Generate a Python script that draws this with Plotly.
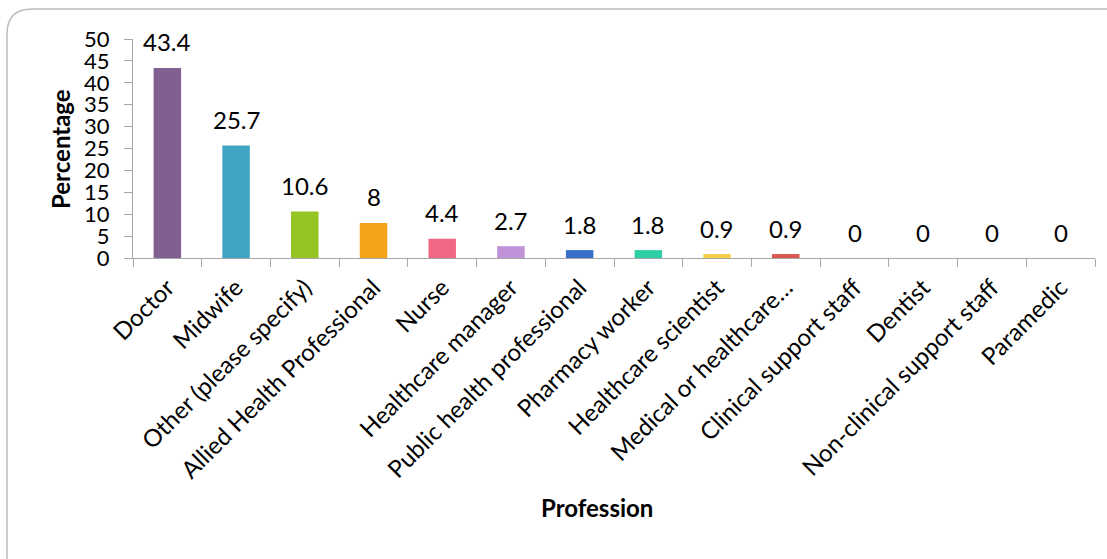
import plotly.graph_objects as go

categories = ["Doctor", "Midwife", "Other (please specify)", "Allied Health Professional",
              "Nurse", "Healthcare manager", "Public health professional", "Pharmacy worker",
              "Healthcare scientist", "Medical or healthcare…", "Clinical support staff",
              "Dentist", "Non-clinical support staff", "Paramedic"]
values = [43.4, 25.7, 10.6, 8, 4.4, 2.7, 1.8, 1.8, 0.9, 0.9, 0, 0, 0, 0]
labels = ["43.4", "25.7", "10.6", "8", "4.4", "2.7", "1.8", "1.8", "0.9", "0.9", "0", "0", "0", "0"]
colors = ["#7F6090", "#40A4C3", "#95C423", "#F5A31A", "#F06685", "#C093D8", "#3A6ECB",
          "#2ECFA4", "#F7CE47", "#D9574E", "#888888", "#888888", "#888888", "#888888"]
y_ticks = [0, 5, 10, 15, 20, 25, 30, 35, 40, 45, 50]

W, H = 1107, 559
L, R, T, B = 133, 12, 39, 301
PW, PH = W - L - R, H - T - B

def px(x):
    return (x - L) / PW

def py(y):
    return (H - B - y) / PH

FONT = "Lato"

fig = go.Figure()
fig.add_trace(go.Bar(x=categories, y=values, marker_color=colors, width=0.4,
                     marker_line_width=0, showlegend=False, hoverinfo="x+y"))

annotations = []
for c, v, t in zip(categories, values, labels):
    annotations.append(dict(x=c, y=v, xref="x", yref="y", text=t, showarrow=False,
                            yanchor="middle", yshift=26,
                            font=dict(family=FONT, size=24, color="#000000")))
annotations.append(dict(x=px(60), y=py(149), xref="paper", yref="paper", text="<b>Percentage</b>",
                        textangle=-90, showarrow=False, xanchor="center", yanchor="middle",
                        font=dict(family=FONT, size=24, color="#000000")))
annotations.append(dict(x=px(597), y=py(508), xref="paper", yref="paper", text="<b>Profession</b>",
                        showarrow=False, xanchor="center", yanchor="middle",
                        font=dict(family=FONT, size=24, color="#000000")))

def pt(x, y):
    return f"{px(x):.5f},{py(y):.5f}"

border = ("M " + pt(7, 600) + " L " + pt(7, 34) + " Q " + pt(7, 9) + " " + pt(32, 9)
          + " L " + pt(1122, 9))

fig.update_layout(
    width=W, height=H,
    margin=dict(l=L, r=R, t=T, b=B, autoexpand=False),
    paper_bgcolor="white", plot_bgcolor="white",
    font=dict(family=FONT, color="#000000"),
    annotations=annotations,
    shapes=[dict(type="path", path=border, xref="paper", yref="paper",
                 line=dict(color="#BDBDBD", width=1.5))],
    bargap=0.6,
)
fig.update_xaxes(showline=True, linecolor="#A6A6A6", linewidth=1.2, ticks="outside",
                 tickson="boundaries", ticklen=8, tickcolor="#A6A6A6", tickwidth=1.2,
                 tickangle=-45, tickfont=dict(family=FONT, size=24, color="#000000"),
                 ticklabelstandoff=5,
                 showgrid=False, zeroline=False, automargin=False)
fig.update_yaxes(range=[0, 50], tickvals=y_ticks, ticktext=[str(v) for v in y_ticks],
                 showline=True, linecolor="#A6A6A6", linewidth=1.2, ticks="outside",
                 ticklen=8, tickcolor="#A6A6A6", tickwidth=1.2, showgrid=False, zeroline=False,
                 ticklabelstandoff=10,
                 tickfont=dict(family=FONT, size=22, color="#000000"), automargin=False)

fig.write_html("out.html")
